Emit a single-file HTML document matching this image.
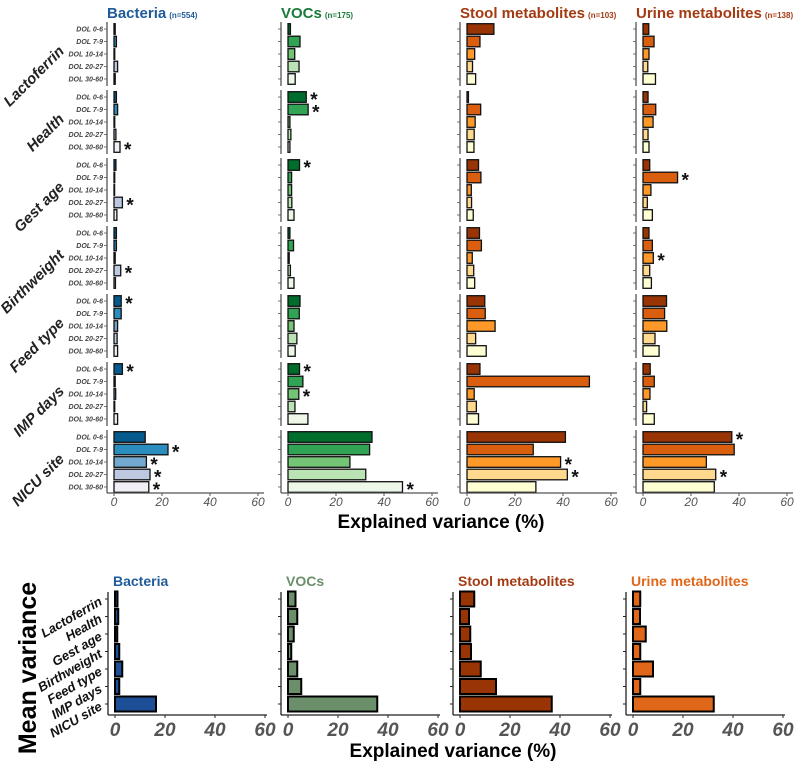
<!DOCTYPE html>
<html><head><meta charset="utf-8"><style>
html,body{margin:0;padding:0;background:#fff;}
svg{display:block;font-family:"Liberation Sans",Arial,sans-serif;}
</style></head><body>
<svg id="chart" width="800" height="769" viewBox="0 0 800 769" xmlns="http://www.w3.org/2000/svg"></svg>
<script>
const factors = ["Lactoferrin","Health","Gest age","Birthweight","Feed type","IMP days","NICU site"];
const dols = ["DOL 0-6","DOL 7-9","DOL 10-14","DOL 20-27","DOL 30-60"];
const ticks = [0,20,40,60];
const panelNames = ["Bacteria","VOCs","Stool metabolites","Urine metabolites"];
const panelN = ["(n=554)","(n=175)","(n=103)","(n=138)"];
const bacteriaVals = [[0.5,1,0.3,1.5,0.5],[1,1.5,0.3,0.8,2.5],[0.8,0.3,0.2,3.5,1.2],[1,1,0.5,2.8,0.6],[3,3,1.5,1.3,1.5],[3.5,0.5,0.7,0.3,1.5],[13,22.5,13.5,15,14.5]];
const vocVals = [[1,5,2.8,4.6,3],[7.6,8.4,0.8,1.2,0.8],[4.8,1.5,1.5,1.6,2.5],[0.8,2.3,0.5,1,2.5],[5,4.7,2.5,3.7,3],[4.8,6.2,4.5,2.9,8.3],[35,34,25.8,32.4,47.7]];
const stoolVals = [[11.2,5.4,3.2,2.3,3.6],[0.6,5.7,3.4,3,2.9],[4.8,5.8,1.8,1.9,2.6],[5.2,6,2.2,2.8,3.2],[7.4,7.6,11.7,3.6,8],[5.4,51,3,3.9,4.8],[41,27.6,39,41.8,28.7]];
const urineVals = [[2.4,4.6,2.5,2,5.2],[2.1,5.3,4.2,2.1,2.5],[2.8,14.4,3.3,1.8,3.9],[2.5,3.9,4.3,2.8,3.5],[9.8,9,9.9,5,6.7],[3,4.7,2.9,1.5,4.7],[37,38,26.4,30.3,29.7]];
const bacteriaStars = [[],[4],[3],[3],[0],[0],[1,2,3,4]];
const vocStars = [[],[0,1],[0],[],[],[0,2],[4]];
const stoolStars = [[],[],[],[],[],[],[2,3]];
const urineStars = [[],[],[1],[2],[],[],[0,3]];
const meanBacteria = [1,1.3,0.9,1.7,2.9,1.7,16.4];
const meanVoc = [3,3.7,2.3,1.3,3.7,5.3,35.7];
const meanStool = [5.7,3.6,4.1,4.4,8.3,14.4,36.7];
const meanUrine = [2.9,2.8,5.1,2.9,8,2.9,32.3];

const allVals=[bacteriaVals,vocVals,stoolVals,urineVals];
const allStars=[bacteriaStars,vocStars,stoolStars,urineStars];
const allMeans=[meanBacteria,meanVoc,meanStool,meanUrine];
const palettes=[["#045a8d","#2b8cbe","#74a9cf","#bdc9e1","#f1eef6"],["#006d2c","#31a354","#74c476","#bae4b3","#edf8e9"],["#993404","#d95f0e","#fe9929","#fed98e","#ffffd4"],["#993404","#d95f0e","#fe9929","#fed98e","#ffffd4"]];
const titleColors=["#1f5b99","#1a7a3a","#a43a12","#a43a12"];
const meanColors=["#1c4f96","#6b8f6b","#993404","#e0661a"];
const meanTitleColors=["#1f5b99","#6b8f6b","#a43a12","#e0661a"];
const zeroTop=[114,288,467,643], zeroBot=[115,288,460,633];
const NS="http://www.w3.org/2000/svg";
const svg=document.getElementById('chart');
function mk(tag,attrs,parent,text){const e=document.createElementNS(NS,tag);for(const k in attrs)e.setAttribute(k,attrs[k]);if(text!==undefined)e.textContent=text;(parent||svg).appendChild(e);return e;}
const xTop=(p,v)=>zeroTop[p]+v*2.4;
const yTop=(g,i)=>29+68*g+12.5*i;
const xBot=(p,v)=>zeroBot[p]+v*2.5;
const yBot=(g)=>599+17.5*g;

for(let p=0;p<4;p++){
  const gp=mk('g',{});
  
  
  const t=mk('text',{x:zeroTop[p]-7,y:18,'font-size':15,'font-weight':'bold',fill:titleColors[p]},gp);
  
  
  t.textContent=panelNames[p];
  mk('tspan',{'font-size':8,dx:3},t,panelN[p]);
  for(let g=0;g<7;g++){
    const yc=yTop(g,2);
    const ax=mk('line',{x1:zeroTop[p]-7,x2:zeroTop[p]-7,y1:yc-32,y2:(g==6?493:yc+32),stroke:'#555','stroke-width':1.3},gp);
    
    
    for(let i=0;i<5;i++){
      const y=yTop(g,i);
      mk('line',{x1:zeroTop[p]-10,x2:zeroTop[p]-7,y1:y,y2:y,stroke:'#555','stroke-width':0.8},gp);
      if(p==0){
        const l=mk('text',{x:zeroTop[p]-11,y:y+2.5,'font-size':7,'font-style':'italic','font-weight':'bold',fill:'#444','text-anchor':'end'},gp,dols[i]);
        
        
      }
      const v=allVals[p][g][i];
      const r=mk('rect',{x:zeroTop[p],y:y-5.3,width:Math.max(xTop(p,v)-zeroTop[p],0.6),height:10.6,fill:palettes[p][i],stroke:'#111','stroke-width':1.3},gp);
      
      
      if(allStars[p][g].includes(i)){
        const s=mk('text',{x:xTop(p,v)+4,y:y+9,'font-size':19,'font-weight':'bold',fill:'#111'},gp,'*');
        
        
      }
    }
    if(p==0){
      const fl=mk('text',{x:0,y:0,'font-size':15,'font-weight':'bold','font-style':'italic',fill:'#222','text-anchor':'end',transform:`translate(65,${yc-2}) rotate(-45)`},gp,factors[g]);
      
      
    }
  }
  const xa=mk('line',{x1:zeroTop[p]-7,x2:zeroTop[p]+150,y1:493,y2:493,stroke:'#555','stroke-width':1.3},gp);
  
  
  ticks.forEach(tk=>{
    mk('line',{x1:xTop(p,tk),x2:xTop(p,tk),y1:493,y2:496,stroke:'#555'},gp);
    const tl=mk('text',{x:xTop(p,tk),y:506,'font-size':12,'font-style':'italic',fill:'#555','text-anchor':'middle'},gp,tk);
    
    
  });

  const gb=mk('g',{});
  
  
  const bt=mk('text',{x:zeroBot[p]-2,y:586,'font-size':14,'font-weight':'bold',fill:meanTitleColors[p]},gb,panelNames[p]);
  
  
  mk('line',{x1:zeroBot[p]-7,x2:zeroBot[p]-7,y1:592,y2:715,stroke:'#222','stroke-width':1.3},gb);
  mk('line',{x1:zeroBot[p]-7,x2:zeroBot[p]+152,y1:715,y2:715,stroke:'#222','stroke-width':1.3},gb);
  for(let g=0;g<7;g++){
    const y=yBot(g);
    mk('line',{x1:zeroBot[p]-10,x2:zeroBot[p]-7,y1:y,y2:y,stroke:'#222'},gb);
    const v=allMeans[p][g];
    const r=mk('rect',{x:zeroBot[p],y:y-7.5,width:xBot(p,v)-zeroBot[p],height:15,fill:meanColors[p],stroke:'#000','stroke-width':2},gb);
    
    
    if(p==0){
      const l=mk('text',{x:0,y:0,'font-size':13,'font-weight':'bold','font-style':'italic',fill:'#111','text-anchor':'end',transform:`translate(103,${y+5}) rotate(-30)`},gb,factors[g]);
      
      
    }
  }
  ticks.forEach(tk=>{
    mk('line',{x1:xBot(p,tk),x2:xBot(p,tk),y1:715,y2:718,stroke:'#222'},gb);
    const tl=mk('text',{x:xBot(p,tk),y:736,'font-size':19,'font-weight':'bold','font-style':'italic',fill:'#555','text-anchor':'middle'},gb,tk);
    
    
  });
}
const xt=mk('text',{x:441,y:528,'font-size':19,'font-weight':'bold',fill:'#000','text-anchor':'middle'},svg,'Explained variance (%)');


const xt2=mk('text',{x:453,y:757,'font-size':19,'font-weight':'bold',fill:'#000','text-anchor':'middle'},svg,'Explained variance (%)');


const mv=mk('text',{x:0,y:0,'font-size':25,'font-weight':'bold',fill:'#000','text-anchor':'middle',transform:'translate(36,668) rotate(-90)'},svg,'Mean variance');


</script>
</body></html>
